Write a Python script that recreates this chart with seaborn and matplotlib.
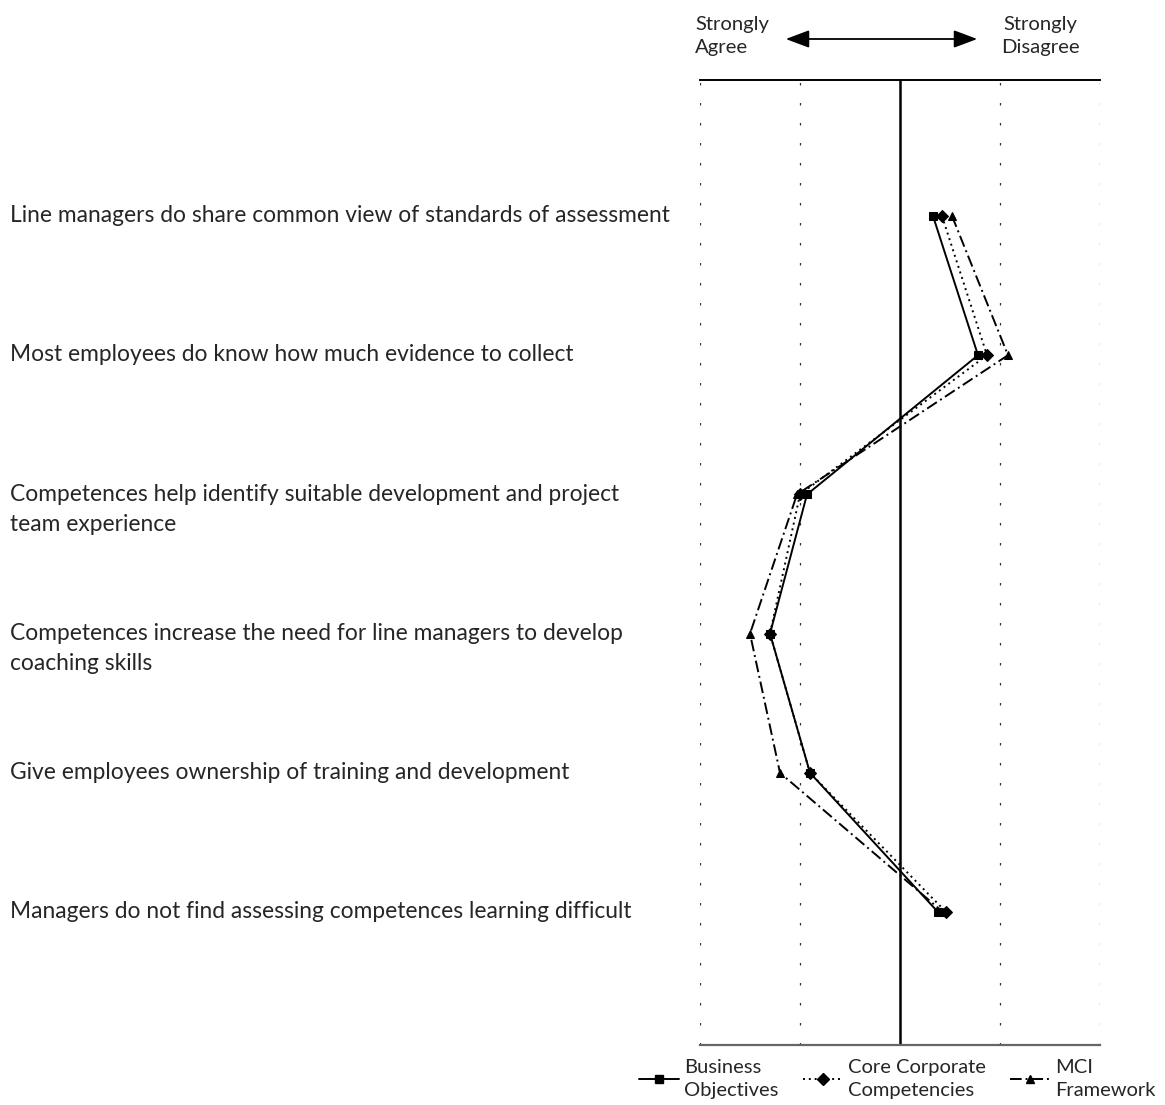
import pandas as pd
import matplotlib.pyplot as plt
import matplotlib.transforms as mtransforms
from matplotlib.lines import Line2D
import seaborn as sns

sns.set_theme(style="white")
plt.rcParams['font.family'] = ['Lato', 'DejaVu Sans']

# statements (top to bottom)
questions = [
    "Line managers do share common view of standards of assessment",
    "Most employees do know how much evidence to collect",
    "Competences help identify suitable development and project\nteam experience",
    "Competences increase the need for line managers to develop\ncoaching skills",
    "Give employees ownership of training and development",
    "Managers do not find assessing competences learning difficult",
]
# 1 = strongly agree ... 5 = strongly disagree
business_objectives = [3.33, 3.78, 2.07, 1.70, 2.10, 3.38]
core_competencies = [3.42, 3.87, 2.00, 1.70, 2.10, 3.46]
mci_framework = [3.52, 4.08, 1.97, 1.50, 1.80, 3.43]
series_names = ["Business\nObjectives", "Core Corporate\nCompetencies", "MCI\nFramework"]

rows = []
for name, vals in zip(series_names, [business_objectives, core_competencies, mci_framework]):
    for i, v in enumerate(vals):
        rows.append({'row': i, 'score': v, 'series': name})
df = pd.DataFrame(rows)

fig = plt.figure(figsize=(11.65, 11.05), dpi=100)
ax = fig.add_axes([700 / 1165, 1 - 1045 / 1105, 400 / 1165, 965 / 1105])

# reference lines
for gx in [1, 2, 4, 5]:
    ax.axvline(gx, color='#333333', lw=0.9, ls=(0, (2, 14)), zorder=1)
ax.axvline(3, color='black', lw=1.8, zorder=1)

markers = {series_names[0]: 's', series_names[1]: 'D', series_names[2]: '^'}
dashes = {series_names[0]: '', series_names[1]: (1, 2), series_names[2]: (6, 2, 1, 2)}
palette = {n: 'black' for n in series_names}

sns.lineplot(data=df, x='score', y='row', hue='series', style='series',
             markers=markers, dashes=dashes, palette=palette, sort=False,
             orient='y', estimator=None, linewidth=1.4, markersize=6,
             markeredgecolor='black', legend=False, ax=ax, zorder=3)

ax.set_xlim(1, 5)
ax.set_ylim(5.955, -0.977)
ax.set_xticks([])
ax.set_yticks([])
ax.set_xlabel('')
ax.set_ylabel('')
for s in ['left', 'right']:
    ax.spines[s].set_visible(False)
ax.spines['top'].set_color('black')
ax.spines['top'].set_linewidth(1.4)
ax.spines['bottom'].set_color('#666666')
ax.spines['bottom'].set_linewidth(1.6)

# statement labels on the left, first line level with the row
base = mtransforms.blended_transform_factory(fig.transFigure, ax.transData)
for i, q in enumerate(questions):
    extra = q.count('\n')
    trans = mtransforms.offset_copy(base, fig=fig, x=0, y=-4.5 - 21.6 * extra,
                                    units='points')
    ax.text(10 / 1165, i, q, transform=trans, ha='left', va='baseline',
            fontsize=16.4, linespacing=1.5)

# header with arrow
fig.text(695 / 1165, 1 - 36 / 1105, "Strongly\nAgree", ha='left', va='center',
         fontsize=14.6, linespacing=1.4)
fig.text(1040 / 1165, 1 - 36 / 1105, "Strongly\nDisagree", ha='center', va='center',
         multialignment='center', fontsize=14.6, linespacing=1.4)
ax.annotate('', xy=(783 / 1165, 1 - 39 / 1105), xytext=(980 / 1165, 1 - 39 / 1105),
            xycoords='figure fraction', textcoords='figure fraction',
            arrowprops=dict(arrowstyle='<|-|>,head_length=1.2,head_width=0.45',
                            color='black', lw=1.3))

# legend
handles = [Line2D([0], [0], color='black', lw=1.4, marker=markers[n],
                  markersize=6, dashes=dashes[n] if dashes[n] else (None, None))
           for n in series_names]
handles[0].set_linestyle('-')
leg = fig.legend(handles, series_names, loc='lower right', ncol=3,
                 bbox_to_anchor=(1162 / 1165, 0.0), frameon=False, fontsize=14.5,
                 handlelength=2.0, handletextpad=0.25, columnspacing=1.2,
                 borderaxespad=0.2, borderpad=0.1)
for t in leg.get_texts():
    t.set_linespacing(1.45)

fig.savefig('out.png', dpi=100)
